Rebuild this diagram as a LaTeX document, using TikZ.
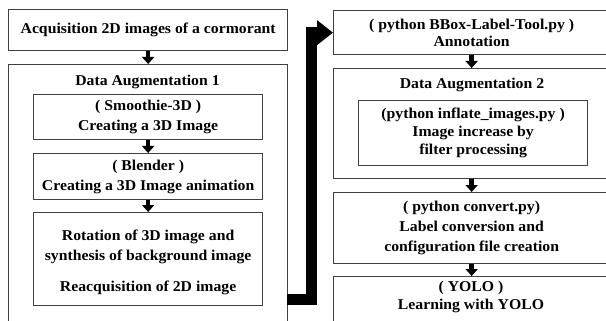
\documentclass[tikz,border=0pt]{standalone}
\usepackage{fontspec}
\setmainfont{Liberation Serif}[FakeStretch=1.05]
\usetikzlibrary{arrows.meta,calc}
\begin{document}
\begin{tikzpicture}[x=1pt,y=-1pt,
  box/.style={draw=black!75, line width=1.3pt, fill=white, inner sep=0pt, align=center,
    font=\fontsize{15}{20}\selectfont\bfseries, anchor=north west},
  ttl/.style={font=\fontsize{15}{20}\selectfont\bfseries, inner sep=0pt},
  smallarrow/.style={line width=4.5pt, -{Triangle[width=12pt,length=7pt]}},
  bigarrow/.style={line width=11pt, line join=miter, -{Triangle[width=24pt,length=16pt]}}
]
\useasboundingbox (0,0) rectangle (606,321);
\clip (0,0) rectangle (606,321);
\fill[white] (0,0) rectangle (606,321);
% left column
\node[box, minimum width=279pt, minimum height=41pt] (acq) at (8,9) {Acquisition 2D images of a cormorant};
\node[box, minimum width=279pt, minimum height=280pt] (da1) at (8,64) {};
\node[ttl] (da1t) at (147.5,82) {Data Augmentation 1};
\node[box, minimum width=229pt, minimum height=45pt] (smo) at (33,94) {( Smoothie-3D )\\Creating a 3D Image};
\node[box, minimum width=229pt, minimum height=46pt] (ble) at (33,153) {( Blender )\\Creating a 3D Image animation};
\node[box, minimum width=229pt, minimum height=93pt] (rot) at (33,212) {\rule{0pt}{17pt}Rotation of 3D image and\\synthesis of background image\\[11pt]Reacquisition of 2D image};
% right column
\node[box, minimum width=276pt, minimum height=44pt] (bbox) at (333,10) {( python BBox-Label-Tool.py )\\[-3pt]Annotation};
\node[box, minimum width=276pt, minimum height=110pt] (da2) at (333,68) {};
\node[ttl] (da2t) at (472,85) {Data Augmentation 2};
\node[box, minimum width=229pt, minimum height=65pt] (inf) at (358,100) {(python inflate\_images.py )\\[-2pt]Image increase by\\[-2pt]filter processing};
\node[box, minimum width=276pt, minimum height=71pt] (cnv) at (333,192) {( python convert.py)\\Label conversion and\\configuration file creation};
\node[box, minimum width=276pt, minimum height=80pt] (yolo) at (333,276) {};
\node[ttl] (yolot) at (471,288) {( YOLO )};
\node[ttl] (yolol) at (471,306) {Learning with YOLO};
% small arrows
\draw[smallarrow] (acq.south) -- (da1.north);
\draw[smallarrow] (smo.south) -- (ble.north);
\draw[smallarrow] (ble.south) -- (rot.north);
\draw[smallarrow] (bbox.south) -- (da2.north);
\draw[smallarrow] (da2.south) -- (cnv.north);
\draw[smallarrow] (cnv.south) -- (yolo.north);
% big arrow
\coordinate (bigstart) at (287,299);
\draw[bigarrow] (bigstart) -| ($(bbox.west)+(-22,0)$) -- (bbox.west);
\end{tikzpicture}
\end{document}
